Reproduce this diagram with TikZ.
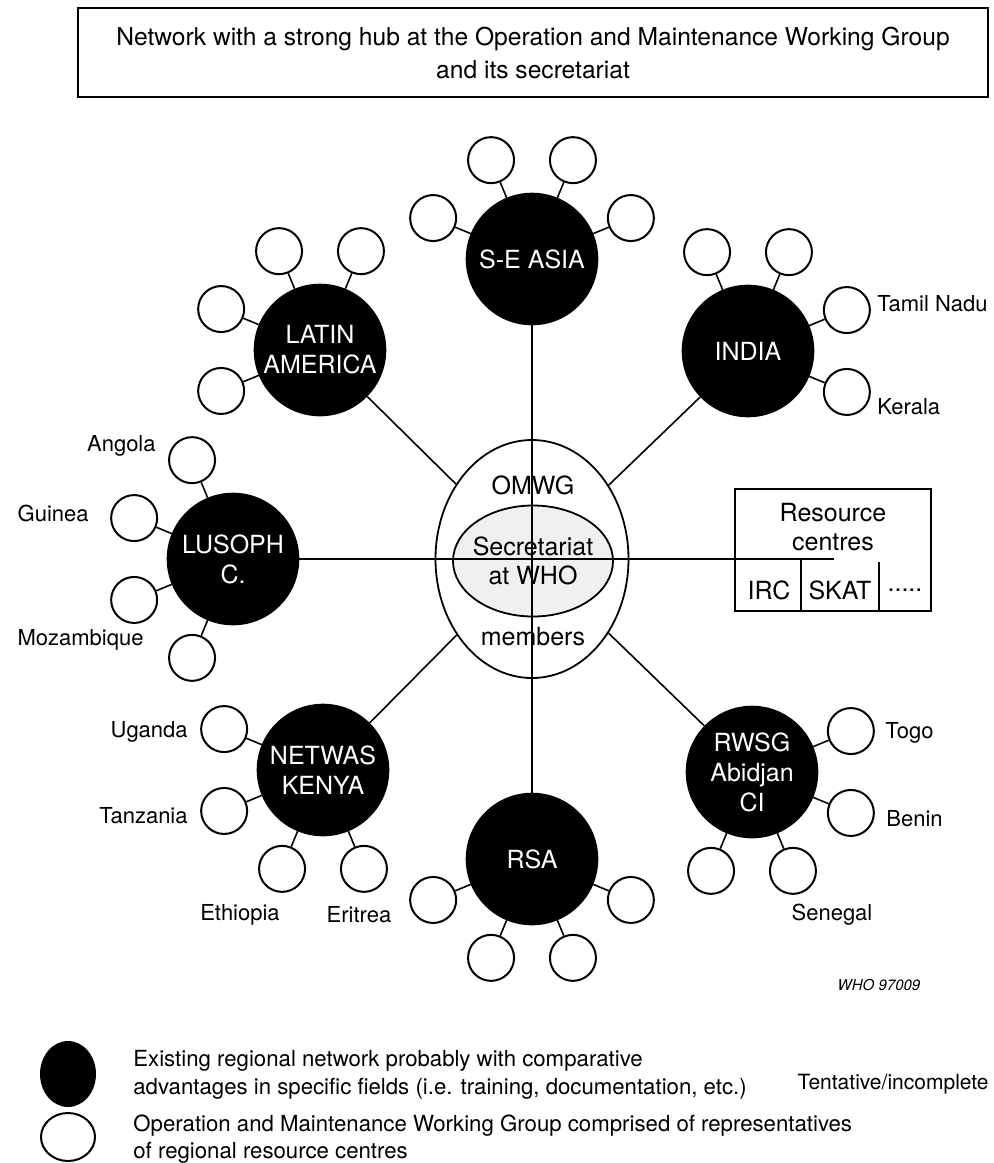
\documentclass[tikz,border=0pt]{standalone}
\usepackage{fontspec}
\setmainfont{TeX Gyre Heros}
\usetikzlibrary{shapes.geometric,calc}
\begin{document}
\begin{tikzpicture}[x=0.5pt,y=-0.5pt,
  region/.style={circle,fill=black,draw=black,line width=0.8pt,minimum size=65.5pt,inner sep=0pt,text=white,align=center,font=\fontsize{12.5}{15}\selectfont},
  sat/.style={circle,draw=black,fill=white,line width=1pt,minimum size=23pt,inner sep=0pt},
  link/.style={line width=0.8pt},
  lbl/.style={inner sep=0pt,font=\fontsize{11}{13}\selectfont},
  hubtext/.style={inner sep=0pt,align=center,font=\fontsize{12.5}{14.5}\selectfont},
  legtext/.style={inner sep=0pt,anchor=west,align=left,font=\fontsize{11.1}{13.8}\selectfont}
]
\useasboundingbox (0,0) rectangle (994,1163);

% title
\node[draw,line width=1pt,minimum width=455pt,minimum height=44.5pt,inner sep=0pt,align=center,
  font=\fontsize{12.3}{16.5}\selectfont] (title) at (533,52.5)
  {Network with a strong hub at the Operation and Maintenance Working Group\\and its secretariat};

% hub
\node[ellipse,draw,line width=0.9pt,minimum width=96.5pt,minimum height=119pt,inner sep=0pt] (hub) at (532,559) {};
\node[ellipse,draw,line width=0.9pt,fill=black!6,minimum width=80pt,minimum height=55.5pt,inner sep=0pt] (sec) at (533,561) {};

% regions
\node[region] (SEA) at (532,259) {S-E ASIA};
\node[region] (LA) at (320,350) {LATIN\\AMERICA};
\node[region] (LUS) at (233,559) {LUSOPH\\C.};
\node[region] (NET) at (323,770) {NETWAS\\KENYA};
\node[region] (RSA) at (532,859) {RSA};
\node[region] (RW) at (752,772) {RWSG\\Abidjan\\CI};
\node[region] (IN) at (748,351) {INDIA};

% resource centres box
\node[draw,line width=0.9pt,minimum width=98pt,minimum height=61pt,inner sep=0pt] (rc) at (833,550) {};
\coordinate (rcend) at (834,559);
\draw[line width=0.8pt] (801,559) -- (801,611);
\draw[line width=0.8pt] (879,562) -- (879,611);
\node[hubtext] (rct) at (833,527) {Resource\\centres};
\node[hubtext] (irc) at (769,590) {IRC};
\node[hubtext] (skat) at (840,590) {SKAT};
\node[hubtext] (dots) at (905,590) {.....};

% spokes
\draw[link] (SEA) -- (RSA);
\draw[link] (LUS) -- (rcend);
\draw[link] (LA) -- (hub);
\draw[link] (IN) -- (hub);
\draw[link] (NET) -- (hub);
\draw[link] (RW) -- (hub);

% hub texts
\node[hubtext] (omwg) at (533,485) {OMWG};
\node[hubtext] (sect) at (533,561) {Secretariat\\at WHO};
\node[hubtext] (mem) at (533,637) {members};

% satellites
\foreach \r/\angs in {SEA/{22.5,67.5,112.5,157.5},LA/{67.5,112.5,157.5,202.5},LUS/{112.5,157.5,202.5,247.5},NET/{157.5,202.5,247.5,292.5},RSA/{202.5,247.5,292.5,337.5},RW/{247.5,292.5,337.5,22.5},IN/{-22.5,22.5,67.5,112.5}}{
  \foreach \a [count=\i] in \angs {
    \node[sat] (\r-\i) at ($(\r)+(-\a:107)$) {};
    \draw[link] (\r) -- (\r-\i);
  }
}

% country labels
\node[lbl,anchor=east] (angola) at (156,446) {Angola};
\node[lbl,anchor=east] (guinea) at (89,513) {Guinea};
\node[lbl,anchor=east] (moz) at (144,640) {Mozambique};
\node[lbl,anchor=west] (tamil) at (877,304) {Tamil Nadu};
\node[lbl,anchor=west] (kerala) at (877,407) {Kerala};
\node[lbl,anchor=east] (uganda) at (188,732) {Uganda};
\node[lbl,anchor=east] (tanz) at (188,816) {Tanzania};
\node[lbl] (eth) at (240,915) {Ethiopia};
\node[lbl] (eri) at (359,915) {Eritrea};
\node[lbl,anchor=west] (togo) at (885,733) {Togo};
\node[lbl,anchor=west] (benin) at (886,819) {Benin};
\node[lbl] (sen) at (832,915) {Senegal};
\node[inner sep=0pt,font=\itshape\fontsize{7.5}{9}\selectfont] (who) at (879,985) {WHO 97009};

% legend
\node[ellipse,fill=black,minimum width=28pt,minimum height=33pt,inner sep=0pt] (legB) at (68,1074) {};
\node[ellipse,draw,line width=1pt,minimum width=27pt,minimum height=24pt,inner sep=0pt] (legW) at (68,1137) {};
\node[legtext] (legBt) at (133,1075) {Existing regional network probably with comparative\\advantages in specific fields (i.e. training, documentation, etc.)};
\node[inner sep=0pt,anchor=east,font=\fontsize{10.5}{13}\selectfont] (tent) at (989,1084) {Tentative/incomplete};
\node[legtext] (legWt) at (133,1139) {Operation and Maintenance Working Group comprised of representatives\\of regional resource centres};
\end{tikzpicture}
\end{document}
